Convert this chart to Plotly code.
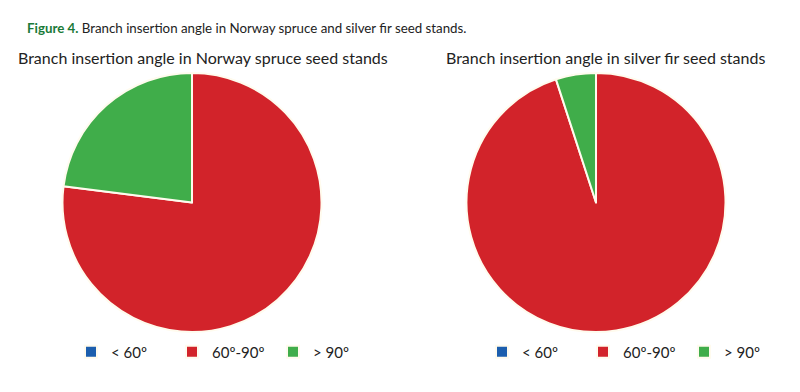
import plotly.graph_objects as go

categories = ["< 60º", "60º-90º", "> 90º"]
spruce_values = [0, 77, 23]
fir_values = [0, 95, 5]
colors = ["#1c5eae", "#d2232a", "#40ad4a"]

W, H = 800, 392
def px_x(x): return x / W
def px_y(y): return 1 - y / H

# second pie gets its own legend; zero-width space keeps its labels distinct
fir_labels = [c + "\u200b" for c in categories]

fig = go.Figure()
fig.add_trace(go.Pie(
    labels=categories, values=spruce_values, sort=False, direction="clockwise",
    rotation=0, marker=dict(colors=colors, line=dict(color="#fffbee", width=2)),
    textinfo="none", hoverinfo="label+percent",
    domain=dict(x=[px_x(54.5), px_x(313.5)], y=[px_y(324), px_y(65)]),
    legend="legend", showlegend=True))
fig.add_trace(go.Pie(
    labels=fir_labels, values=fir_values, sort=False, direction="clockwise",
    rotation=0, marker=dict(colors=colors, line=dict(color="#fffbee", width=2)),
    textinfo="none", hoverinfo="label+percent",
    domain=dict(x=[px_x(458.5), px_x(717.5)], y=[px_y(324), px_y(65)]),
    legend="legend2", showlegend=True))

legend_common = dict(orientation="h", yanchor="middle", xanchor="left",
                     font=dict(family="Lato", size=15, color="#222"),
                     entrywidth=56, entrywidthmode="pixels",
                     bgcolor="rgba(0,0,0,0)", itemclick=False, itemdoubleclick=False)

fig.update_layout(
    width=W, height=H, margin=dict(l=0, r=0, t=0, b=0),
    paper_bgcolor="white", plot_bgcolor="white",
    legend=dict(x=px_x(63), y=px_y(344), **legend_common),
    legend2=dict(x=px_x(474), y=px_y(344), **legend_common),
    annotations=[
        dict(text="<b><span style='color:#1a7a38'>Figure 4.</span></b> Branch insertion angle in Norway spruce and silver fir seed stands.",
             x=px_x(17), y=px_y(20), xref="paper", yref="paper", xanchor="left", yanchor="middle",
             showarrow=False, font=dict(family="Lato", size=13.3, color="#222")),
        dict(text="Branch insertion angle in Norway spruce seed stands",
             x=px_x(8), y=px_y(50), xref="paper", yref="paper", xanchor="left", yanchor="middle",
             showarrow=False, font=dict(family="Lato", size=16, color="#222")),
        dict(text="Branch insertion angle in silver fir seed stands",
             x=px_x(436), y=px_y(50), xref="paper", yref="paper", xanchor="left", yanchor="middle",
             showarrow=False, font=dict(family="Lato", size=16, color="#222")),
    ],
)

fig.write_html("out.html")
